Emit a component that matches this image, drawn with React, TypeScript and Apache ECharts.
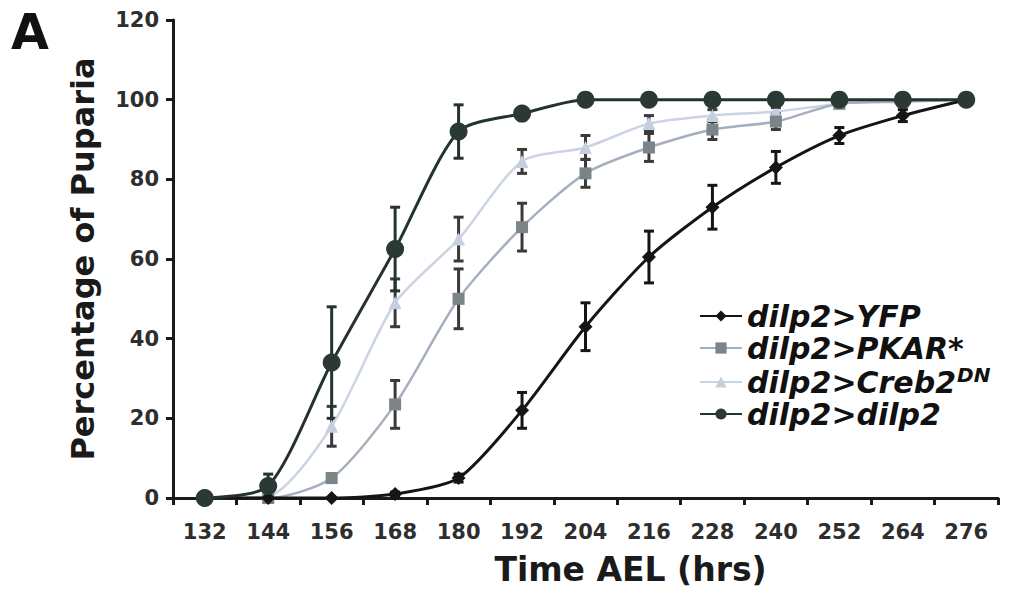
import React, { useEffect, useRef } from "react";
import * as echarts from "echarts";

const categories = ["132", "144", "156", "168", "180", "192", "204", "216", "228", "240", "252", "264", "276"];
const yTicks = [0, 20, 40, 60, 80, 100, 120];

const seriesNames = ["dilp2>YFP", "dilp2>PKAR*", "dilp2>Creb2DN", "dilp2>dilp2"];

const yfpValues = [0, 0, 0, 1, 5, 22, 43, 60.5, 73, 83, 91, 96, 100];
const yfpErr = [0, 0, 0, 0.5, 1, 4.5, 6, 6.5, 5.5, 4, 2, 1.5, 0];

const pkarValues = [0, 0, 5, 23.5, 50, 68, 81.5, 88, 92.5, 94.5, 99, 99.5, 100];
const pkarErr = [0, 0, 1, 6, 7.5, 6, 3.5, 3.5, 2.5, 2, 1, 0.5, 0];

const crebValues = [0, 0.5, 18, 49, 65, 84.5, 88, 94, 96, 97, 99, 100, 100];
const crebErr = [0, 0, 5, 6, 5.5, 3, 3, 2, 1.5, 1, 0.5, 0, 0];

const dilpValues = [0, 3, 34, 62.5, 92, 96.5, 100, 100, 100, 100, 100, 100, 100];
const dilpErr = [0, 3, 14, 10.5, 6.7, 1.5, 0, 0, 0, 0, 0, 0, 0];

const FONT = "DejaVu Sans";

function errData(vals: number[], errs: number[]) {
  const out: number[][] = [];
  vals.forEach((v, i) => {
    if (errs[i] > 0) out.push([i, v, errs[i]]);
  });
  return out;
}

function errSeries(vals: number[], errs: number[], color: string, z: number) {
  return {
    type: "custom",
    z,
    silent: true,
    data: errData(vals, errs),
    renderItem: (params: any, api: any) => {
      const x = api.value(0);
      const y = api.value(1);
      const e = api.value(2);
      const top = api.coord([x, y + e]);
      const bot = api.coord([x, Math.max(0, y - e)]);
      const hw = 5;
      const st = { stroke: color, lineWidth: 3 };
      return {
        type: "group",
        children: [
          { type: "line", shape: { x1: top[0], y1: top[1], x2: bot[0], y2: bot[1] }, style: st },
          { type: "line", shape: { x1: top[0] - hw, y1: top[1], x2: top[0] + hw, y2: top[1] }, style: st },
          { type: "line", shape: { x1: bot[0] - hw, y1: bot[1], x2: bot[0] + hw, y2: bot[1] }, style: st },
        ],
      };
    },
  };
}

export default function App() {
  const ref = useRef<HTMLDivElement>(null);
  useEffect(() => {
    if (!ref.current) return;
    const chart = echarts.init(ref.current, undefined, { renderer: "svg" });
    const option: any = {
      animation: false,
      backgroundColor: "#ffffff",
      textStyle: { fontFamily: FONT },
      grid: { left: 173, right: 31, top: 20, bottom: 107 },
      graphic: [
        {
          type: "text",
          left: 11,
          top: 8,
          style: { text: "A", font: `bold 49px '${FONT}'`, fill: "#111" },
        },
      ],
      legend: {
        left: 694,
        top: 296,
        orient: "vertical",
        itemWidth: 42,
        itemHeight: 14,
        itemGap: 2,
        data: seriesNames,
        formatter: (name: string) =>
          name === "dilp2>Creb2DN" ? "{n|dilp2>Creb2}{s|DN}" : `{n|${name}}`,
        textStyle: {
          rich: {
            n: {
              fontFamily: FONT,
              fontSize: 30,
              fontWeight: "bold",
              fontStyle: "italic",
              color: "#111",
              lineHeight: 34,
            },
            s: {
              fontFamily: FONT,
              fontSize: 20,
              fontWeight: "bold",
              fontStyle: "italic",
              color: "#111",
              lineHeight: 34,
              verticalAlign: "top",
              padding: [0, 0, 10, 1],
            },
          },
        },
      },
      xAxis: {
        type: "category",
        data: categories,
        boundaryGap: true,
        name: "Time AEL (hrs)",
        nameLocation: "middle",
        nameGap: 55,
        nameTextStyle: {
          fontFamily: FONT,
          fontSize: 33,
          fontWeight: "bold",
          color: "#1a1a1a",
          padding: [0, 0, 0, 90],
        },
        axisLine: { lineStyle: { color: "#1a1a1a", width: 3 } },
        axisTick: { show: true, length: 7, inside: false, lineStyle: { color: "#1a1a1a", width: 3 } },
        axisLabel: {
          fontFamily: FONT,
          fontSize: 21,
          fontWeight: "bold",
          color: "#2e2e2e",
          margin: 23,
          interval: 0,
        },
        splitLine: { show: false },
      },
      yAxis: {
        type: "value",
        min: 0,
        max: 120,
        interval: 20,
        name: "Percentage of Puparia",
        nameLocation: "middle",
        nameGap: 74,
        nameTextStyle: {
          fontFamily: FONT,
          fontSize: 32,
          fontWeight: "bold",
          color: "#1a1a1a",
        },
        axisLine: { show: true, lineStyle: { color: "#1a1a1a", width: 3 } },
        axisTick: { show: true, length: 7, lineStyle: { color: "#1a1a1a", width: 3 } },
        axisLabel: {
          fontFamily: FONT,
          fontSize: 21,
          fontWeight: "bold",
          color: "#2e2e2e",
          margin: 14,
          formatter: (v: number) => (yTicks.includes(v) ? String(v) : ""),
        },
        splitLine: { show: false },
      },
      series: [
        errSeries(crebValues, crebErr, "#3a3a3a", 1),
        errSeries(pkarValues, pkarErr, "#3a3a3a", 1),
        errSeries(yfpValues, yfpErr, "#151515", 1),
        errSeries(dilpValues, dilpErr, "#243330", 1),
        {
          name: "dilp2>Creb2DN",
          type: "line",
          z: 2,
          data: crebValues,
          smooth: 0.25,
          symbol: "triangle",
          symbolSize: 13,
          itemStyle: { color: "#c6cfdf" },
          lineStyle: { color: "#cbd4e4", width: 2.5 },
        },
        {
          name: "dilp2>PKAR*",
          type: "line",
          z: 3,
          data: pkarValues,
          smooth: 0.25,
          symbol: "rect",
          symbolSize: 12,
          itemStyle: { color: "#7b8487" },
          lineStyle: { color: "#a5afbf", width: 2.5 },
        },
        {
          name: "dilp2>YFP",
          type: "line",
          z: 4,
          data: yfpValues,
          smooth: 0.25,
          symbol: "diamond",
          symbolSize: 14,
          itemStyle: { color: "#151515" },
          lineStyle: { color: "#151515", width: 3 },
        },
        {
          name: "dilp2>dilp2",
          type: "line",
          z: 5,
          data: dilpValues,
          smooth: 0.25,
          symbol: "circle",
          symbolSize: 18,
          itemStyle: { color: "#2b3934" },
          lineStyle: { color: "#243330", width: 3 },
        },
      ],
    };
    chart.setOption(option);
    return () => chart.dispose();
  }, []);
  return (
    <div
      ref={ref}
      style={{ position: "fixed", left: 0, top: 0, width: 1029, height: 605 }}
    />
  );
}
